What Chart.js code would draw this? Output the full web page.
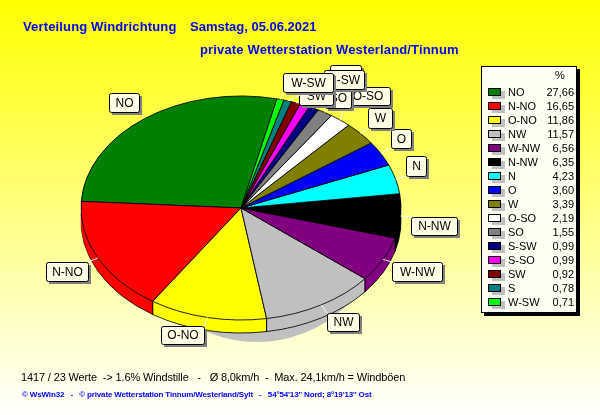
<!DOCTYPE html>
<html>
<head>
<meta charset="utf-8">
<title>Verteilung Windrichtung</title>
<script src="https://cdn.jsdelivr.net/npm/chart.js@4"></script>
<style>
  html, body { margin: 0; padding: 0; }
  body { width: 600px; height: 415px; overflow: hidden; background: linear-gradient(#ffff00, #ffffff); }
  canvas { display: block; }
</style>
</head>
<body>
<canvas id="chart" width="600" height="415"></canvas>
<script>
const categories = ["NO", "N-NO", "O-NO", "NW", "W-NW", "N-NW", "N", "O", "W", "O-SO", "SO", "S-SW", "S-SO", "SW", "S", "W-SW"];
const percentValues = [27.66, 16.65, 11.86, 11.57, 6.56, 6.35, 4.23, 3.60, 3.39, 2.19, 1.55, 0.99, 0.99, 0.92, 0.78, 0.71];
const percentLabels = ["27,66", "16,65", "11,86", "11,57", "6,56", "6,35", "4,23", "3,60", "3,39", "2,19", "1,55", "0,99", "0,99", "0,92", "0,78", "0,71"];
const sliceColors = ["#008000", "#ff0000", "#ffff00", "#c0c0c0", "#800080", "#000000", "#00ffff", "#0000ff", "#808000", "#ffffff", "#808080", "#000080", "#ff00ff", "#800000", "#008080", "#00ff00"];

// label boxes, same order as categories: left, top, right, bottom
const labelBoxes = [
    [109, 93, 139, 112], [46, 262, 88, 281], [161, 326, 204, 344], [327, 313, 359, 331],
    [392, 262, 442, 281], [411, 217, 457, 235], [406, 156, 426, 176], [391, 129, 411, 148],
    [368, 108, 392, 128], [345, 87, 390, 105], [325, 88, 351, 108], [324, 70, 364, 89],
    [330, 65, 361, 84], [299, 86, 333, 105], [306, 76, 326, 92], [283, 73, 333, 92]
];
// the boxes overlap at the top, later ones lie on top
const labelOrder = [0, 1, 2, 3, 4, 5, 6, 7, 8, 9, 10, 12, 11, 13, 14, 15];

const pieX = 241, pieY = 208, pieRadius = 160, pieSquash = 0.7, pieDepth = 13;

function pieTransform(ctx, arc, dy) {
    ctx.translate(pieX, pieY + dy);
    ctx.scale(-1, pieSquash);
    ctx.translate(-arc.x, -arc.y);
}

function edgePoint(angle) {
    return [pieX - pieRadius * Math.cos(angle), pieY + pieRadius * pieSquash * Math.sin(angle)];
}

function drawLayer(ctx, arcs, dy, outlined) {
    arcs.forEach(function (arc) {
        const saved = arc.options;
        if (!outlined) {
            arc.options = Object.assign({}, saved, { borderWidth: 0 });
        }
        ctx.save();
        pieTransform(ctx, arc, dy);
        arc.draw(ctx);
        ctx.restore();
        arc.options = saved;
    });
}

const tiltedPie = {
    id: "tiltedPie",
    beforeDatasetsDraw(chart) {
        const ctx = chart.ctx;
        const arcs = chart.getDatasetMeta(0).data;

        // soft shadow below the front edge
        ctx.fillStyle = "#c0c0c0";
        ctx.beginPath();
        ctx.ellipse(257, 222, 125, 120, 0, 0, Math.PI * 2);
        ctx.fill();

        // side wall
        drawLayer(ctx, arcs, pieDepth, true);
        for (let dy = pieDepth - 1; dy > 0; dy--) {
            drawLayer(ctx, arcs, dy, false);
        }
        ctx.strokeStyle = "#000000";
        ctx.lineWidth = 1;
        arcs.forEach(function (arc) {
            if (Math.sin(arc.startAngle) > 0) {
                const p = edgePoint(arc.startAngle);
                ctx.beginPath();
                ctx.moveTo(p[0], p[1]);
                ctx.lineTo(p[0], p[1] + pieDepth);
                ctx.stroke();
            }
        });

        ctx.save();
        pieTransform(ctx, arcs[0], 0);
    },
    afterDatasetsDraw(chart) {
        const ctx = chart.ctx;
        ctx.restore();
        drawLabels(ctx, chart.getDatasetMeta(0).data);
        drawLegend(ctx);
        drawTexts(ctx);
    }
};

function drawLabels(ctx, arcs) {
    ctx.font = "12px 'Liberation Sans'";
    ctx.textAlign = "center";
    ctx.textBaseline = "middle";
    labelOrder.forEach(function (i) {
        const arc = arcs[i];
        const box = labelBoxes[i];
        const mid = (arc.startAngle + arc.endAngle) / 2;
        const p = edgePoint(mid);
        const bx = Math.max(box[0], Math.min(box[2], p[0]));
        const by = Math.max(box[1], Math.min(box[3], p[1]));
        ctx.strokeStyle = "#ffffff";
        ctx.lineWidth = 1;
        ctx.beginPath();
        ctx.moveTo(p[0], p[1]);
        ctx.lineTo(bx, by);
        ctx.stroke();

        const w = box[2] - box[0], h = box[3] - box[1];
        ctx.fillStyle = "#808080";
        ctx.fillRect(box[0] + 3, box[1] + 3, w, h);
        ctx.beginPath();
        ctx.roundRect(box[0] + 0.5, box[1] + 0.5, w, h, 2);
        ctx.fillStyle = "#ffffe8";
        ctx.fill();
        ctx.strokeStyle = "#000000";
        ctx.stroke();
        ctx.fillStyle = "#000000";
        ctx.fillText(categories[i], (box[0] + box[2]) / 2 + 0.5, (box[1] + box[3]) / 2 + 1);
    });
}

function drawLegend(ctx) {
    ctx.fillStyle = "#000000";
    ctx.fillRect(484, 69, 96, 247);
    ctx.fillStyle = "#fffff4";
    ctx.fillRect(481, 66, 96, 247);
    ctx.strokeStyle = "#000000";
    ctx.lineWidth = 1;
    ctx.strokeRect(481.5, 66.5, 95, 246);

    ctx.font = "11px 'Liberation Sans'";
    ctx.textBaseline = "middle";
    ctx.fillStyle = "#000000";
    ctx.textAlign = "center";
    ctx.fillText("%", 560, 76);
    categories.forEach(function (name, i) {
        const y = 92 + i * 14;
        ctx.fillStyle = "#c0c0c0";
        ctx.fillRect(492, y - 1, 13, 8);
        ctx.fillStyle = sliceColors[i];
        ctx.fillRect(488, y - 4, 13, 8);
        ctx.strokeStyle = "#000000";
        ctx.strokeRect(488.5, y - 3.5, 12, 7);
        ctx.fillStyle = "#000000";
        ctx.textAlign = "left";
        ctx.fillText(name, 508, y + 1);
        ctx.textAlign = "right";
        ctx.fillText(percentLabels[i], 574, y + 1);
    });
}

function drawTexts(ctx) {
    ctx.textBaseline = "alphabetic";
    ctx.textAlign = "left";
    ctx.fillStyle = "#0000ff";
    ctx.font = "bold 13px 'Liberation Sans'";
    ctx.letterSpacing = "0.15px";
    ctx.fillText("Verteilung Windrichtung", 23, 31);
    ctx.letterSpacing = "0px";
    ctx.fillText("Samstag, 05.06.2021", 190, 31);
    ctx.letterSpacing = "0.15px";
    ctx.fillText("private Wetterstation Westerland/Tinnum", 200, 54);

    ctx.fillStyle = "#000000";
    ctx.font = "11px 'Liberation Sans'";
    ctx.letterSpacing = "-0.14px";
    ctx.fillText("1417 / 23 Werte  -> 1.6% Windstille   -   Ø 8,0km/h  -  Max. 24,1km/h = Windböen", 21, 381);

    ctx.fillStyle = "#0000ff";
    ctx.font = "bold 8px 'Liberation Sans'";
    ctx.letterSpacing = "-0.15px";
    ctx.fillText("© WsWin32   -   © private Wetterstation Tinnum/Westerland/Sylt   -   54°54'13'' Nord; 8°19'13'' Ost", 22, 397);
}

new Chart(document.getElementById("chart"), {
    type: "pie",
    data: {
        labels: categories,
        datasets: [{
            data: percentValues,
            backgroundColor: sliceColors,
            borderColor: "#000000",
            borderWidth: 1,
            clip: false
        }]
    },
    options: {
        responsive: false,
        animation: false,
        radius: pieRadius,
        rotation: -13,
        plugins: {
            legend: { display: false },
            tooltip: { enabled: false }
        }
    },
    plugins: [tiltedPie]
});
</script>
</body>
</html>
